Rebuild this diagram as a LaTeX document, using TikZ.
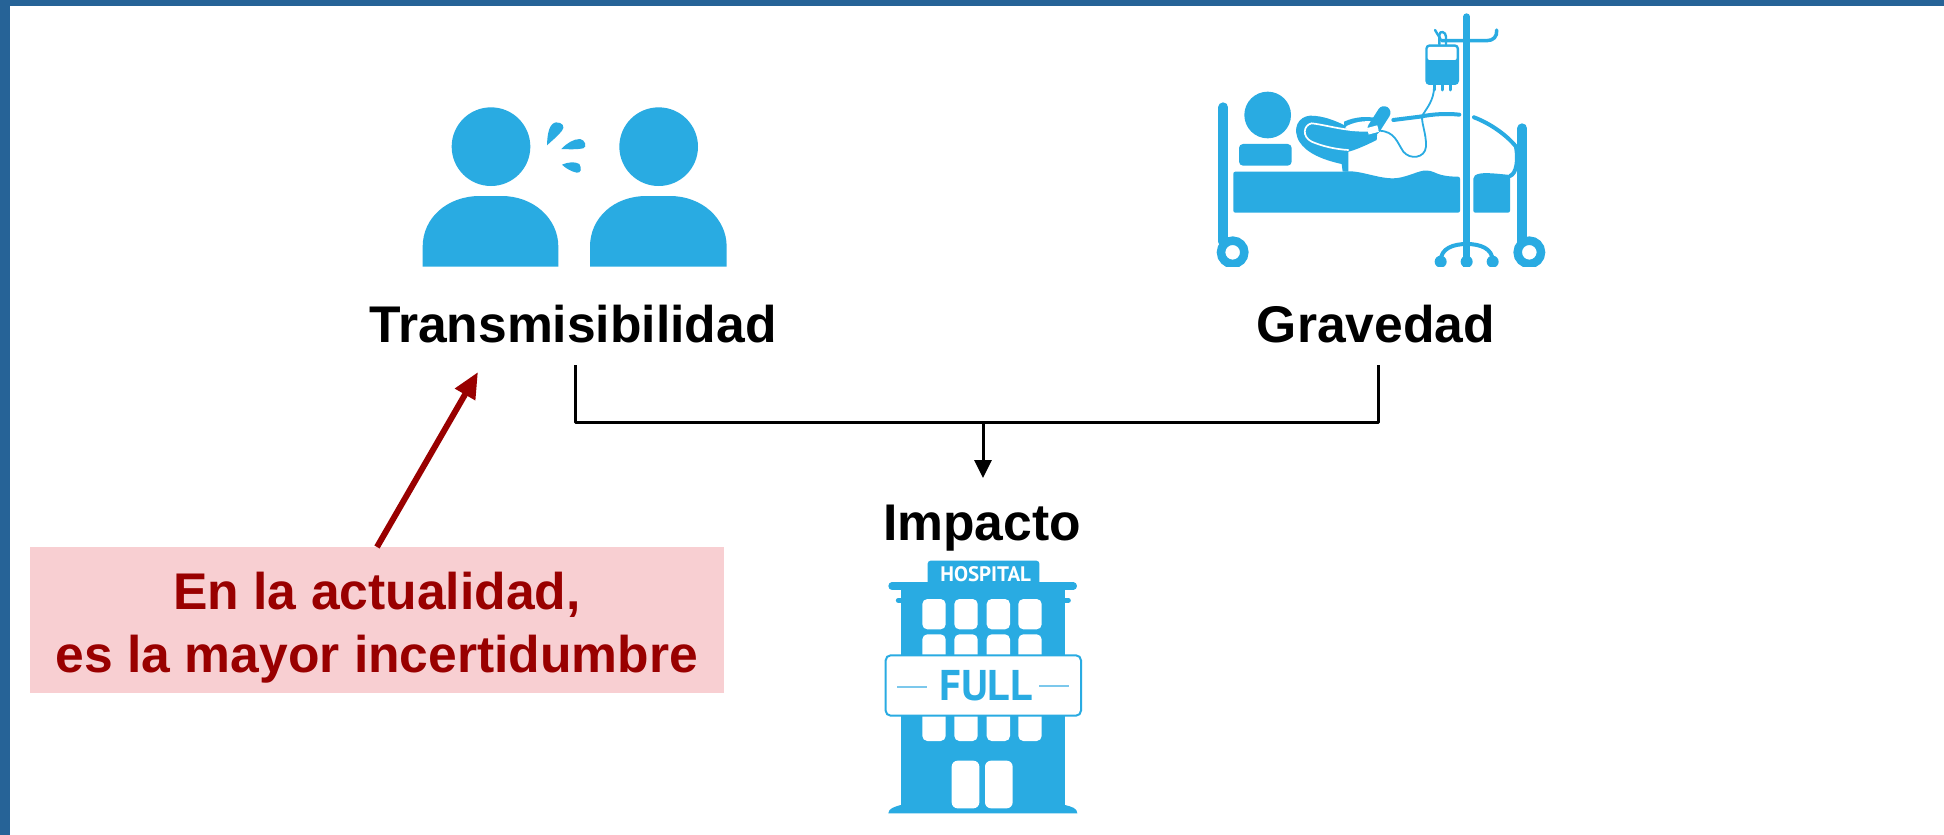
\documentclass[tikz,border=0pt]{standalone}
\usepackage{fontspec}
\setmainfont{Liberation Sans}
\newfontfamily\ptsans{PT Sans}
\definecolor{iconblue}{HTML}{29ABE2}
\definecolor{framebar}{HTML}{266397}
\definecolor{redbox}{HTML}{F8CFD2}
\definecolor{redtext}{HTML}{990000}
\definecolor{palelin}{HTML}{7CC8EC}
\usetikzlibrary{arrows.meta}
\tikzset{
  label text/.style={font=\fontsize{51.6}{60}\selectfont\bfseries,text=black,inner sep=0pt,anchor=base},
  note text/.style={font=\fontsize{51.6}{60}\selectfont\bfseries,text=redtext,inner sep=0pt,anchor=base},
  connector/.style={draw=black,line width=3pt},
  icon/.style={fill=iconblue,draw=none},
  iconline/.style={draw=iconblue,line cap=round,line join=round},
  hole/.style={fill=white,draw=none,rounded corners=5pt},
}
\begin{document}
\begin{tikzpicture}[x=1pt,y=-1pt]
\useasboundingbox (0,0) rectangle (1944,835);
\fill[white] (0,0) rectangle (1944,835);
\fill[framebar] (0,0) rectangle (1944,6);
\fill[framebar] (0,0) rectangle (10,835);

% --- people icon
\begin{scope}[shift={(400,90)},x=1/3*1pt,y=-1/3*1pt]
\fill[icon] (273,170) circle[radius=118];
\fill[icon] (776,170) circle[radius=118];
\fill[icon] (68,530) -- (68,470) .. controls (68,385) and (140,318) .. (240,318) -- (305,318) .. controls (400,318) and (475,385) .. (475,470) -- (475,530) -- cycle;
\fill[icon] (570,530) -- (570,470) .. controls (570,385) and (640,318) .. (740,318) -- (810,318) .. controls (905,318) and (980,385) .. (980,470) -- (980,530) -- cycle;
\fill[icon] (441,166) .. controls (442,130) and (448,100) .. (468,97) .. controls (488,97) and (496,110) .. (486,122) .. controls (475,137) and (458,150) .. (441,166) -- cycle;
\fill[icon] (484,177) .. controls (500,160) and (520,147) .. (540,147) .. controls (556,150) and (562,170) .. (550,175) .. controls (530,179) and (505,178) .. (484,177) -- cycle;
\fill[icon] (486,224) .. controls (505,216) and (525,214) .. (538,222) .. controls (546,235) and (544,250) .. (530,248) .. controls (515,245) and (497,235) .. (486,224) -- cycle;
\end{scope}

% --- bed icon
\begin{scope}[shift={(1200,0)},x=1/3*1pt,y=-1/3*1pt]
\clip (0,0) rectangle (1080,800);
% posts and wheels
\draw[iconline,line width=10pt] (70,322) -- (70,725);
\draw[iconline,line width=10pt] (967,385) -- (967,725);
\draw[draw=iconblue,line width=8.5pt] (98,757) circle[radius=35];
\draw[draw=iconblue,line width=8.5pt] (988,757) circle[radius=35];
% head and pillow
\fill[icon] (203,345) circle[radius=70];
\fill[icon,rounded corners=4pt] (117,432) rectangle (275,497);
% mattress
\fill[icon,rounded corners=2pt] (100,515) -- (430,515) .. controls (480,510) and (530,535) .. (585,535) .. controls (625,530) and (660,510) .. (685,512) .. controls (705,515) and (715,530) .. (780,530) -- (780,638) -- (100,638) -- cycle;
\fill[icon,rounded corners=2pt] (820,530) .. controls (840,515) and (880,520) .. (930,525) -- (930,638) -- (820,638) -- cycle;
% blanket outline
\draw[iconline,line width=4pt] (580,360) -- (660,350) .. controls (700,342) and (740,340) .. (778,344);
\draw[iconline,line width=4pt] (822,352) .. controls (870,370) and (920,405) .. (948,440) .. controls (955,480) and (950,520) .. (930,528);
% arm
\fill[icon] (432,365) .. controls (465,350) and (500,348) .. (535,355) -- (530,420) .. controls (490,440) and (460,452) .. (445,455) -- (445,515) -- (428,515) -- (425,492) .. controls (370,480) and (320,460) .. (298,425) .. controls (275,385) and (295,350) .. (330,347) .. controls (370,347) and (405,362) .. (432,375) -- cycle;
\fill[white] (440,378) .. controls (465,366) and (490,362) .. (515,364) -- (510,392) .. controls (485,394) and (460,392) .. (435,385) -- cycle;
% hand
\draw[iconline,line width=13pt] (552,338) -- (522,385);
\draw[white,line width=1.7pt,line cap=round] (505,392) .. controls (440,395) and (380,375) .. (335,370) .. controls (310,375) and (305,410) .. (335,425) .. controls (370,440) and (410,448) .. (445,450);
% cuff
\fill[white,rotate around={15:(518,390)}] (503,380) rectangle (535,400);
% IV tube
\draw[iconline,line width=1.8pt] (702,262) .. controls (702,300) and (680,325) .. (668,345) .. controls (660,360) and (680,400) .. (678,440) .. controls (675,475) and (630,480) .. (610,455) .. controls (590,425) and (585,395) .. (538,392);
% bag
\fill[icon,rounded corners=4pt] (676,133) rectangle (777,255);
\fill[white,rounded corners=2pt] (683,141) rectangle (770,180);
\draw[iconline,line width=3pt] (702,255) -- (702,270);
\draw[iconline,line width=3pt] (726,255) -- (726,270);
\draw[iconline,line width=3pt] (750,255) -- (750,270);
\draw[iconline,line width=2.4pt] (718,133) -- (718,105) .. controls (718,90) and (738,95) .. (738,110) -- (738,133);
\draw[iconline,line width=2.4pt] (705,90) -- (722,118);
% pole
\draw[iconline,line width=3.5pt] (725,122) -- (860,122) .. controls (880,122) and (892,110) .. (890,90);
\draw[iconline,line width=6.7pt] (800,50) -- (800,800);
\draw[iconline,line width=4pt] (722,783) .. controls (722,745) and (760,732) .. (800,732) .. controls (840,732) and (878,745) .. (878,783);
\fill[icon] (722,785) circle[radius=18];
\fill[icon] (800,785) circle[radius=18];
\fill[icon] (878,785) circle[radius=18];
\end{scope}

% --- hospital icon
\begin{scope}[shift={(860,540)},x=1/3*1pt,y=-1/3*1pt]
\fill[icon,rounded corners=3pt] (203,62) rectangle (538,140);
\draw[iconline,line width=7.3pt] (96,138) -- (640,138);
\draw[iconline,line width=5pt] (115,181) -- (625,181);
\fill[icon] (122,130) rectangle (615,805);
\fill[icon] (85,820) .. controls (85,805) and (105,800) .. (122,795) -- (615,795) .. controls (635,800) and (652,805) .. (652,820) -- cycle;
\foreach \xa/\xb in {187/257,283/353,380/450,475/545}{
  \fill[hole] (\xa,177) rectangle (\xb,268);
  \fill[hole] (\xa,283) rectangle (\xb,400);
  \fill[hole] (\xa,480) rectangle (\xb,603);
}
\fill[hole,rounded corners=6pt] (275,662) rectangle (358,805);
\fill[hole,rounded corners=6pt] (375,662) rectangle (458,805);
\fill[white] (105,533) rectangle (122,541);
\fill[white] (615,533) rectangle (635,541);
\draw[draw=iconblue,fill=white,line width=2pt,rounded corners=5pt] (77,346) rectangle (663,527);
\draw[draw=palelin,line width=1.8pt] (112,440) -- (202,440);
\draw[draw=palelin,line width=1.8pt] (538,437) -- (628,437);
\node[inner sep=0pt,text=white] (hosp) at (377,103) {\ptsans\bfseries\fontsize{21}{24}\selectfont HOSPITAL};
\node[inner sep=0pt,text=iconblue] (full) at (377,437) {\ptsans\bfseries\fontsize{43}{48}\selectfont FULL};
\end{scope}

% --- labels
\node[label text] (trans) at (573,342) {Transmisibilidad};
\node[label text] (grav) at (1376,342) {Gravedad};
\node[label text] (imp) at (982,540) {Impacto};

% --- red note
\node[fill=redbox,minimum width=694pt,minimum height=146pt,inner sep=0pt,anchor=north west] (note) at (30,547) {};
\node[note text] (noteA) at (377,609) {En la actualidad,};
\node[note text] (noteB) at (377,672) {es la mayor incertidumbre};

% --- connectors
\coordinate (bl) at (575.5,365);
\coordinate (br) at (1378,365);
\coordinate (mid) at (983,422);
\coordinate (imptop) at (983,478);
\coordinate (redtip) at (478,372);
\draw[connector,line join=round] (bl) |- (mid) -| (br);
\draw[connector,-{Triangle[length=18pt,width=17pt]}] (mid) -- (imptop);
\draw[draw=redtext,line width=6pt,-{Triangle[length=26pt,width=22pt]}] (377,547) -- (redtip);
\end{tikzpicture}
\end{document}
